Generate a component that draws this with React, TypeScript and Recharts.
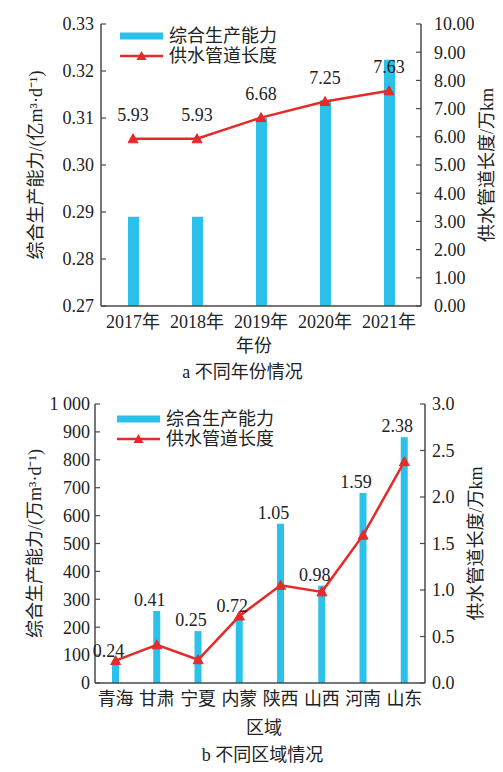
import React from "react";
import {
  Bar,
  ComposedChart,
  LabelList,
  Line,
  XAxis,
  YAxis,
} from "recharts";

// a: by year
const years = ["2017年", "2018年", "2019年", "2020年", "2021年"];
const yearCapacity = [0.289, 0.289, 0.31, 0.3138, 0.3224];
const yearPipe = [5.93, 5.93, 6.68, 7.25, 7.63];
const yearLeftTicks = [0.27, 0.28, 0.29, 0.3, 0.31, 0.32, 0.33];
const yearRightTicks = [0, 1, 2, 3, 4, 5, 6, 7, 8, 9, 10];

// b: by region
const regions = ["青海", "甘肃", "宁夏", "内蒙", "陕西", "山西", "河南", "山东"];
const regionCapacity = [77, 258, 186, 236, 571, 349, 681, 881];
const regionPipe = [0.24, 0.41, 0.25, 0.72, 1.05, 0.98, 1.59, 2.38];
const regionLeftTicks = [0, 100, 200, 300, 400, 500, 600, 700, 800, 900, 1000];
const regionRightTicks = [0, 0.5, 1, 1.5, 2, 2.5, 3];

const FONT = "'Liberation Serif', 'Times New Roman', 'Noto Sans CJK SC', serif";
const BLUE = "#2cc1ea";
const RED = "#e52a2a";
const AXIS = "#4a4a4a";
const TEXT = "#222";

const tickStyle = { fontSize: 18, fill: TEXT, fontFamily: FONT };

function Triangle(props: any) {
  const { cx, cy } = props;
  if (cx == null || cy == null) return null;
  return (
    <path
      d={`M${cx},${cy - 5} L${cx + 5},${cy + 4} L${cx - 5},${cy + 4} Z`}
      fill={RED}
      stroke={RED}
      strokeWidth={1}
    />
  );
}

function LegendBox({ left, top }: { left: number; top: number }) {
  const row = { display: "flex", alignItems: "center", height: 20 };
  return (
    <div
      style={{
        position: "absolute",
        left,
        top,
        fontFamily: FONT,
        fontSize: 18,
        color: TEXT,
        lineHeight: "20px",
      }}
    >
      <div style={row}>
        <svg width={43} height={20}>
          <rect x={0} y={6.5} width={43} height={7} fill={BLUE} />
        </svg>
        <span style={{ marginLeft: 6 }}>综合生产能力</span>
      </div>
      <div style={row}>
        <svg width={43} height={20}>
          <line x1={0} x2={43} y1={10} y2={10} stroke={RED} strokeWidth={2.5} />
          <path d="M21.5,5 L26.5,14 L16.5,14 Z" fill={RED} />
        </svg>
        <span style={{ marginLeft: 6 }}>供水管道长度</span>
      </div>
    </div>
  );
}

interface PanelProps {
  cats: string[];
  cap: number[];
  pipe: number[];
  leftTicks: number[];
  rightTicks: number[];
  leftFmt: (v: number) => string;
  rightFmt: (v: number) => string;
  leftLabel: string;
  xLabel: string;
  caption: string;
  top: number;
  height: number;
  leftW: number;
  rightW: number;
  xAxisH: number;
  barSize: number;
  legendPos: { left: number; top: number };
  labelOnBar: boolean;
  leftMargin: number;
  rightMargin: number;
  leftLabelOffset: number;
  rightLabelOffset: number;
  xLabelDx: number;
  captionTop: number;
  captionLeft: number;
}

function Panel(p: PanelProps) {
  const data = p.cats.map((c, i) => ({ name: c, cap: p.cap[i], len: p.pipe[i] }));

  const lineLabel = (lp: any) => {
    const vb = lp.viewBox || lp;
    return (
      <text
        x={vb.x}
        y={vb.y - 18}
        textAnchor="middle"
        fontSize={18}
        fontFamily={FONT}
        fill={TEXT}
      >
        {Number(lp.value).toFixed(2)}
      </text>
    );
  };

  const barLabel = (lp: any) => {
    const vb = lp.viewBox || lp;
    return (
      <text
        x={vb.x + vb.width / 2 - 7}
        y={vb.y - 5}
        textAnchor="middle"
        fontSize={18}
        fontFamily={FONT}
        fill={TEXT}
      >
        {Number(lp.value).toFixed(2)}
      </text>
    );
  };

  return (
    <div style={{ position: "absolute", left: 0, top: p.top, width: 503, height: p.height + 40 }}>
      <ComposedChart
        width={503}
        height={p.height + 10}
        data={data}
        margin={{ top: 24, right: 0, left: 0, bottom: 10 }}
      >
        <XAxis
          dataKey="name"
          tick={tickStyle}
          tickLine={false}
          tickSize={0}
          tickMargin={9}
          interval={0}
          height={p.xAxisH}
          axisLine={{ stroke: AXIS, strokeWidth: 1.5 }}
          label={{
            value: p.xLabel,
            position: "insideBottom",
            offset: 0,
            dx: p.xLabelDx,
            style: { fontSize: 18, fill: TEXT, fontFamily: FONT },
          }}
        />
        <YAxis
          yAxisId="left"
          orientation="left"
          width={p.leftW}
          domain={[p.leftTicks[0], p.leftTicks[p.leftTicks.length - 1]]}
          ticks={p.leftTicks}
          interval={0}
          tickFormatter={p.leftFmt}
          tick={tickStyle}
          tickSize={-5}
          tickMargin={p.leftMargin}
          axisLine={{ stroke: AXIS, strokeWidth: 1.5 }}
          tickLine={{ stroke: AXIS, strokeWidth: 1.2 }}
          label={{
            value: p.leftLabel,
            angle: -90,
            position: "insideLeft",
            offset: p.leftLabelOffset,
            style: { fontSize: 18, fill: TEXT, fontFamily: FONT, textAnchor: "middle" },
          }}
        />
        <YAxis
          yAxisId="right"
          orientation="right"
          width={p.rightW}
          domain={[p.rightTicks[0], p.rightTicks[p.rightTicks.length - 1]]}
          ticks={p.rightTicks}
          interval={0}
          tickFormatter={p.rightFmt}
          tick={{ ...tickStyle, textAnchor: "start" }}
          tickSize={-5}
          tickMargin={p.rightMargin}
          axisLine={{ stroke: AXIS, strokeWidth: 1.5 }}
          tickLine={{ stroke: AXIS, strokeWidth: 1.2 }}
          label={{
            value: "供水管道长度/万km",
            angle: -90,
            position: "insideRight",
            offset: p.rightLabelOffset,
            style: { fontSize: 18, fill: TEXT, fontFamily: FONT, textAnchor: "middle" },
          }}
        />
        <Bar yAxisId="left" dataKey="cap" fill={BLUE} barSize={p.barSize} isAnimationActive={false}>
          {p.labelOnBar && <LabelList dataKey="len" content={barLabel} />}
        </Bar>
        <Line
          yAxisId="right"
          dataKey="len"
          stroke={RED}
          strokeWidth={2.5}
          dot={<Triangle />}
          activeDot={false}
          isAnimationActive={false}
        >
          {!p.labelOnBar && <LabelList dataKey="len" content={lineLabel} />}
        </Line>
      </ComposedChart>
      <LegendBox left={p.legendPos.left} top={p.legendPos.top} />
      <div
        style={{
          position: "absolute",
          left: p.captionLeft,
          top: p.captionTop,
          width: 503,
          textAlign: "center",
          fontSize: 18,
          fontFamily: FONT,
          color: TEXT,
          lineHeight: "20px",
        }}
      >
        {p.caption}
      </div>
    </div>
  );
}

export default function App() {
  return (
    <div
      style={{
        position: "absolute",
        left: 0,
        top: 0,
        width: 503,
        height: 772,
        background: "#fff",
      }}
    >
      <Panel
        cats={years}
        cap={yearCapacity}
        pipe={yearPipe}
        leftTicks={yearLeftTicks}
        rightTicks={yearRightTicks}
        leftFmt={(v) => v.toFixed(2)}
        rightFmt={(v) => v.toFixed(2)}
        leftLabel="综合生产能力/(亿m³·d⁻¹)"
        xLabel="年份"
        caption="a 不同年份情况"
        top={0}
        height={352}
        leftW={101}
        rightW={82}
        xAxisH={46}
        barSize={11}
        legendPos={{ left: 120, top: 26 }}
        labelOnBar={false}
        leftMargin={12}
        rightMargin={18}
        leftLabelOffset={36}
        rightLabelOffset={16}
        xLabelDx={-7}
        captionTop={362}
        captionLeft={-9}
      />
      <Panel
        cats={regions}
        cap={regionCapacity}
        pipe={regionPipe}
        leftTicks={regionLeftTicks}
        rightTicks={regionRightTicks}
        leftFmt={(v) => (v >= 1000 ? "1 000" : String(v))}
        rightFmt={(v) => v.toFixed(1)}
        leftLabel="综合生产能力/(万m³·d⁻¹)"
        xLabel="区域"
        caption="b 不同区域情况"
        top={380}
        height={354}
        leftW={95}
        rightW={78}
        xAxisH={51}
        barSize={7}
        legendPos={{ left: 117, top: 29 }}
        labelOnBar={true}
        leftMargin={10}
        rightMargin={12}
        leftLabelOffset={35}
        rightLabelOffset={27}
        xLabelDx={4}
        captionTop={365}
        captionLeft={11}
      />
    </div>
  );
}
